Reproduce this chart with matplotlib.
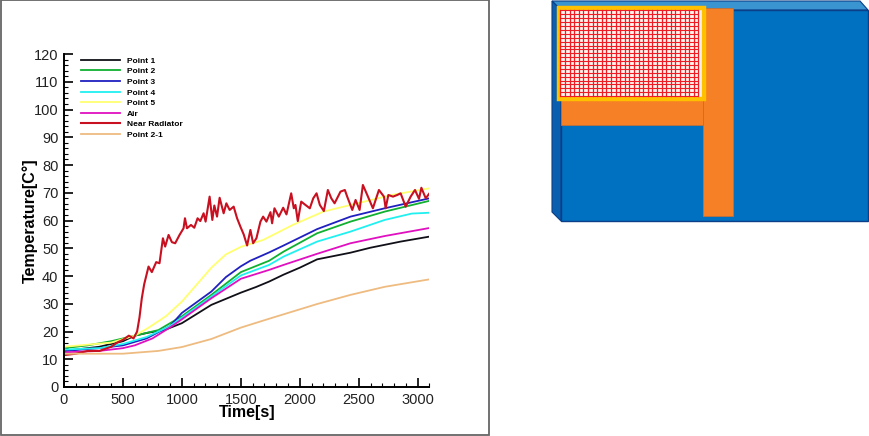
import matplotlib
matplotlib.use('Agg')
import matplotlib.pyplot as plt
from matplotlib.patches import Polygon, Rectangle
from matplotlib.ticker import MultipleLocator

plt.rcParams['font.family'] = ['Liberation Sans', 'DejaVu Sans']

W, H = 870, 436

time_p1 = [0, 300, 500, 600, 718, 850, 1000, 1250, 1500, 1627, 1740, 1863, 2000, 2147, 2430, 2600, 2855, 3100]
point1 = [13, 14.5, 16.5, 18.5, 19.6, 20.5, 23, 29.6, 34, 36, 38, 40.5, 43, 46, 48.4, 50.2, 52.4, 54.2]
time_p2 = [0, 200, 400, 600, 800, 1000, 1250, 1500, 1740, 1863, 2147, 2430, 2720, 3100]
point2 = [14, 15, 16.5, 18.5, 20.5, 25.5, 33.2, 41.4, 45.5, 48.8, 55.4, 59.6, 63.2, 67.1]
time_p3 = [0, 300, 500, 700, 900, 1000, 1250, 1373, 1500, 1580, 1740, 1863, 2147, 2430, 2720, 3100]
point3 = [13, 14, 15, 17.5, 22, 26.7, 34.4, 39.6, 43.5, 45.5, 48.5, 51, 56.9, 61.4, 64.4, 68]
time_p4 = [0, 300, 500, 700, 900, 1000, 1250, 1500, 1740, 1863, 2147, 2430, 2720, 2950, 3100]
point4 = [13.5, 14, 15.5, 18, 22, 25, 32.6, 40.2, 44, 47, 52.4, 56, 60.2, 62.5, 62.8]
time_p5 = [0, 400, 600, 718, 864, 1000, 1250, 1373, 1500, 1690, 1940, 2200, 2430, 2780, 3100]
point5 = [14.5, 16, 18.5, 21.4, 25.5, 30.8, 43, 47.8, 50.5, 53, 58.4, 63.2, 65.6, 69.2, 71.6]
time_air = [0, 300, 500, 600, 750, 900, 1000, 1250, 1500, 1740, 1863, 2147, 2430, 2720, 3100]
air = [12.5, 13, 14, 15, 17.5, 21.5, 24.4, 32, 39, 42.2, 44, 48, 51.8, 54.4, 57.3]
time_p21 = [0, 200, 500, 800, 1000, 1250, 1500, 1740, 2147, 2430, 2720, 3100]
point21 = [12, 12, 12, 13, 14.4, 17.3, 21.4, 24.6, 29.9, 33.2, 36.1, 38.8]

time_rad = [0, 100, 200, 300, 400, 450, 500, 550, 590, 620, 640, 660, 680, 717, 745, 782, 810, 839, 858,
            887, 915, 943, 980, 1014, 1026, 1043, 1077, 1105, 1133, 1156, 1184, 1201, 1235, 1258, 1275,
            1298, 1320, 1354, 1377, 1405, 1439, 1468, 1496, 1524, 1553, 1581, 1604, 1632, 1666, 1689,
            1717, 1751, 1765, 1785, 1822, 1859, 1887, 1927, 1949, 1963, 1983, 2012, 2048, 2085, 2114,
            2142, 2170, 2204, 2238, 2267, 2295, 2345, 2382, 2402, 2445, 2473, 2507, 2535, 2572, 2620,
            2671, 2714, 2728, 2751, 2790, 2827, 2855, 2898, 2940, 2977, 3011, 3031, 3068, 3100]
near_radiator = [11.5, 12, 13, 13, 14.5, 16, 17, 18.5, 17.5, 20, 25, 32, 37, 43.4, 41.4, 45, 44.6, 53.6, 50.6,
                 54.8, 52.2, 51.8, 54.8, 57.2, 60.8, 57.2, 58.4, 57.4, 60.8, 59.8, 62.6, 59.6, 68.6, 60.2, 65.4,
                 61.4, 68.2, 62.6, 66.2, 63.8, 65, 60.8, 57.8, 55, 51, 56.6, 51.8, 53.6, 59.6, 61.4,
                 59.6, 63, 59, 64.4, 61.4, 64.6, 62.2, 69.8, 64.4, 65.6, 59.8, 66.8, 65.6, 64.4, 68,
                 69.8, 65.6, 63.4, 71, 68, 66.2, 70.4, 71, 68.6, 63.8, 67.4, 63.8, 72.8, 69.2, 64.4,
                 71, 68.6, 64.4, 69.2, 68.6, 69.2, 69.8, 65, 68.6, 71, 67.8, 71.8, 68, 69.8]

labels = ['Point 1', 'Point 2', 'Point 3', 'Point 4', 'Point 5', 'Air', 'Near Radiator', 'Point 2-1']
colors = ['#101018', '#10b030', '#2020c0', '#20f0f0', '#ffff70', '#e010c0', '#c81020', '#eebb80']
series = [(time_p1, point1), (time_p2, point2), (time_p3, point3), (time_p4, point4),
          (time_p5, point5), (time_air, air), (time_rad, near_radiator), (time_p21, point21)]

fig = plt.figure(figsize=(W / 100, H / 100), dpi=100)

# background layer in pixel coordinates, holds the frame and the schematic
bg = fig.add_axes([0, 0, 1, 1])
bg.set_xlim(0, W)
bg.set_ylim(H, 0)
bg.axis('off')

bg.add_patch(Rectangle((1, 0.5), 488, 434.5, fill=False, ec='#666666', lw=1.3))

# schematic on the right
bg.add_patch(Polygon([(552, 1), (860, 1), (868, 10), (561, 10)], fc='#3a94d0', ec='#0b3f8a', lw=0.8))
bg.add_patch(Polygon([(552, 1), (561, 10), (561, 221), (552, 212)], fc='#0a5fae', ec='#0b3f8a', lw=0.8))
bg.add_patch(Rectangle((561, 10), 307, 211, fc='#0070c0', ec='#0b3f8a', lw=1))
bg.add_patch(Rectangle((703, 8), 30, 208, fc='#f58025', ec='#c0703a', lw=0.6))
bg.add_patch(Rectangle((561, 100), 142, 25, fc='#f58025', ec='#c0703a', lw=0.6))
bg.add_patch(Rectangle((559, 8), 145, 91, fc='#fff4ee', ec='#ffc000', lw=3.2, zorder=3))
for i in range(31):
    gx = 560.5 + i * 4.6
    bg.plot([gx, gx], [10.5, 96], color='#ee1c25', lw=0.9, zorder=4)
for i in range(23):
    gy = 10.5 + i * 3.89
    bg.plot([560.5, 698.5], [gy, gy], color='#ee1c25', lw=0.8, zorder=4)

# temperature plot
x0, x1, y_top, y_bot = 64, 429.5, 54, 387
ax = fig.add_axes([x0 / W, 1 - y_bot / H, (x1 - x0) / W, (y_bot - y_top) / H])
ax.patch.set_alpha(0)
for (t, v), c, lab in zip(series, colors, labels):
    ax.plot(t, v, color=c, lw=1.5 if lab == 'Near Radiator' else 1.3, label=lab)

ax.set_xlim(0, 3100)
ax.set_ylim(0, 120)
ax.spines['top'].set_visible(False)
ax.spines['right'].set_visible(False)
ax.spines['left'].set_linewidth(1.4)
ax.spines['bottom'].set_linewidth(1.4)
ax.xaxis.set_major_locator(MultipleLocator(500))
ax.xaxis.set_minor_locator(MultipleLocator(100))
ax.yaxis.set_major_locator(MultipleLocator(10))
ax.yaxis.set_minor_locator(MultipleLocator(2))
ax.tick_params(which='major', direction='in', length=6.5, width=1.2, labelsize=10.5, pad=4, labelcolor='#222222')
ax.tick_params(which='minor', direction='in', length=3.2, width=0.8)
ax.set_xlabel('Time[s]', fontsize=11.5, fontweight='bold', labelpad=-1)
ax.set_ylabel('Temperature[C°]', fontsize=11.5, fontweight='bold', labelpad=-3)

leg = ax.legend(loc='upper left', bbox_to_anchor=(17 / (x1 - x0), 1 - 3 / (y_bot - y_top)), frameon=False,
                fontsize=6, handlelength=4.7, handletextpad=0.8, labelspacing=0.33, borderpad=0, borderaxespad=0)
for txt in leg.get_texts():
    txt.set_fontweight('bold')

fig.savefig('out.png', dpi=100)
